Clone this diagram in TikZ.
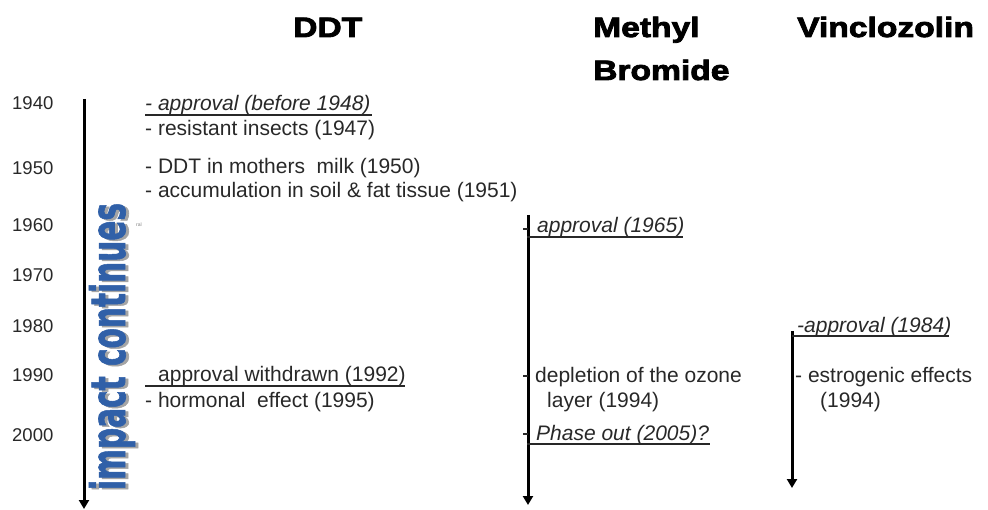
\documentclass[tikz,border=0pt]{standalone}
\usepackage{fontspec}
\usepackage{graphicx}
\setmainfont{Liberation Sans}
\newfontfamily\titlefont[FakeStretch=1.2,FakeBold=3]{Liberation Sans Bold}
\newfontfamily\impactfont[FakeBold=1.5]{DejaVu Sans Condensed}
\usetikzlibrary{arrows.meta}
\definecolor{txt}{RGB}{40,40,40}
\definecolor{impblue}{RGB}{48,96,168}
\definecolor{shadowgray}{RGB}{165,165,165}
\tikzset{
  title/.style={font=\titlefont\fontsize{28}{30}\selectfont, text=black, inner sep=0, anchor=base west},
  year/.style={font=\fontsize{18.5}{20}\selectfont, text=txt, inner sep=0, anchor=base west},
  item/.style={font=\fontsize{21}{22}\selectfont, text=txt, inner sep=0, anchor=base west},
  ital/.style={font=\fontsize{21}{22}\selectfont\itshape, text=txt, inner sep=0, anchor=base west},
  timeline/.style={line width=3pt, draw=black, -{Triangle[width=10pt,length=9pt]}},
  uline/.style={line width=1.3pt, draw=txt},
  tickmark/.style={line width=1.2pt, draw=txt},
  wordart/.style={rotate=90, inner sep=0},
}
\newcommand{\impacttext}{\resizebox*{287pt}{46pt}{\impactfont\bfseries impact continues}}
\begin{document}
\begin{tikzpicture}[x=1pt,y=-1pt]
\useasboundingbox (0,0) rectangle (988,510);
% titles
\node[title] (tddt) at (293,37) {DDT};
\node[title] (tmeth) at (593,37) {Methyl};
\node[title] (tbrom) at (593,80) {Bromide};
\node[title] (tvinc) at (797,37) {Vinclozolin};
% years
\foreach \yr/\yb in {1940/110,1950/175,1960/232,1970/282,1980/333,1990/382,2000/441}
  \node[year] (y\yr) at (12,\yb) {\yr};
% timelines
\coordinate (ddtTop) at (84,99);
\coordinate (ddtEnd) at (84,509);
\coordinate (mbTop) at (528,215);
\coordinate (mbEnd) at (528,505);
\coordinate (vcTop) at (792,331);
\coordinate (vcEnd) at (792,488);
\draw[timeline] (ddtTop) -- (ddtEnd);
\draw[timeline] (mbTop) -- (mbEnd);
\draw[timeline] (vcTop) -- (vcEnd);
% impact continues word art
\node[wordart, text=shadowgray] (impshadow) at (115,348) {\impacttext};
\node[wordart, text=impblue] (impact) at (112,346.5) {\impacttext};
% DDT items
\node[ital] (d1) at (145,111) {- approval (before 1948)};
\draw[uline] (145,115) -- (372,115);
\node[item] (d2) at (145,136) {- resistant insects (1947)};
\node[item] (d3) at (145,174) {- DDT in mothers\ \ milk (1950)};
\node[item] (d4) at (145,198) {- accumulation in soil \& fat tissue (1951)};
\node[font=\fontsize{5}{6}\selectfont, text=gray, inner sep=0, anchor=base west] (ral) at (136,227) {ral};
\node[item] (d5) at (158,382) {approval withdrawn (1992)};
\draw[uline] (145,386) -- (405,386);
\node[item] (d6) at (145,407) {- hormonal\ \ effect (1995)};
% Methyl bromide items
\draw[tickmark] (523,229) -- (528,229);
\node[ital] (m1) at (537,233) {approval (1965)};
\draw[uline] (527,237) -- (683,237);
\draw[tickmark] (523,376) -- (528,376);
\node[item] (m2) at (535,383) {depletion of the ozone};
\node[item] (m3) at (547,408) {layer (1994)};
\draw[tickmark] (523,434) -- (528,434);
\node[ital] (m4) at (536,440) {Phase out (2005)?};
\draw[uline] (527,444) -- (710,444);
% Vinclozolin items
\node[ital] (v1) at (797,333) {-approval (1984)};
\draw[uline] (792,336) -- (949,336);
\node[item] (v2) at (795,383) {- estrogenic effects};
\node[item] (v3) at (820,408) {(1994)};
\end{tikzpicture}
\end{document}
